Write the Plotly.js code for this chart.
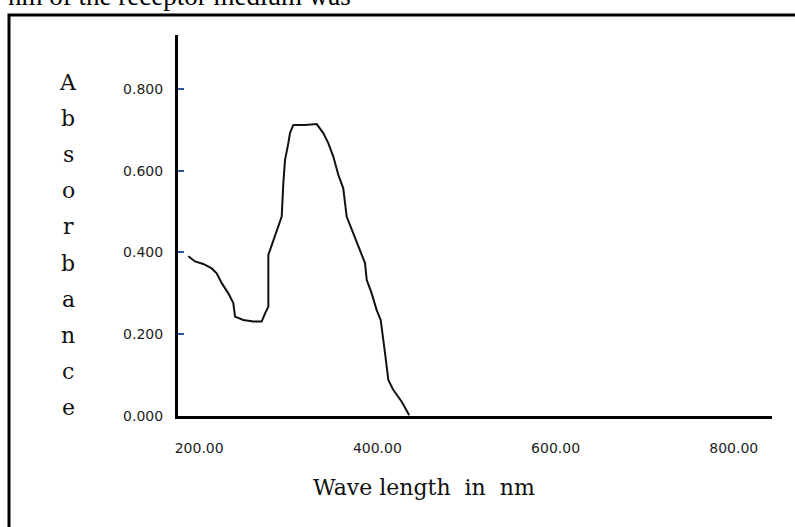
<!DOCTYPE html>
<html>
<head>
<meta charset="utf-8">
<script src="https://cdn.plot.ly/plotly-3.0.1.min.js"></script>
<style>
  html, body { margin: 0; padding: 0; background: #ffffff; }
  #chart { width: 795px; height: 527px; }
</style>
</head>
<body>
<div id="chart"></div>
<script>
// UV absorbance spectrum of the receptor medium
const wavelength = [187.8, 195.3, 204.6, 214.0, 219.6, 225.3, 232.7, 238.3, 240.2, 249.5,
  260.7, 270.1, 273.9, 277.6, 277.6, 283.2, 287.0, 292.6, 294.4, 296.3,
  300.0, 301.9, 305.6, 318.7, 331.9, 339.3, 345.0, 350.6, 356.1, 361.7,
  365.5, 373.0, 380.5, 386.1, 388.0, 393.6, 399.2, 403.7, 408.6, 412.3,
  417.8, 427.3, 435.7];
const absorbance = [0.391, 0.378, 0.372, 0.361, 0.349, 0.325, 0.300, 0.276, 0.243, 0.235,
  0.231, 0.231, 0.251, 0.267, 0.394, 0.431, 0.451, 0.488, 0.569, 0.626,
  0.667, 0.692, 0.712, 0.712, 0.714, 0.692, 0.667, 0.634, 0.590, 0.557,
  0.488, 0.447, 0.406, 0.374, 0.333, 0.300, 0.259, 0.235, 0.153, 0.088,
  0.064, 0.035, 0.002];

const xTicks = [200, 400, 600, 800];
const yTicks = [0, 0.2, 0.4, 0.6, 0.8];
const yTitle = 'Absorbance';
const xTitle = 'Wave\u00a0length\u00a0\u00a0in\u00a0\u00a0nm';
const headerText = 'nm of the receptor medium was';

// plot box in pixels, used to turn pixel placements into paper coordinates
const W = 795, H = 527;
const M = { l: 178, r: 23, t: 35, b: 111 };
const PW = W - M.l - M.r, PH = H - M.t - M.b;
const px = x => (x - M.l) / PW;
const py = y => (H - M.b - y) / PH;

const serif = 'DejaVu Serif, serif';
const tickFont = { family: 'DejaVu Sans, sans-serif', size: 14, color: '#1e1e1e' };

const annotations = [];
// vertical stacked y-axis title, one letter per line
yTitle.split('').forEach((ch, i) => {
  annotations.push({
    text: ch, xref: 'paper', yref: 'paper',
    x: px(68), y: py(82 + i * 36.2),
    xanchor: 'center', yanchor: 'middle', showarrow: false,
    font: { family: serif, size: 22, color: '#111' }
  });
});
annotations.push({
  text: xTitle, xref: 'paper', yref: 'paper',
  x: px(424), y: py(487), xanchor: 'center', yanchor: 'middle',
  showarrow: false, font: { family: serif, size: 22, color: '#111' }
});
// running text line above the framed figure, partly above the page edge
annotations.push({
  text: headerText, xref: 'paper', yref: 'paper',
  x: px(6), y: py(13), xanchor: 'left', yanchor: 'bottom',
  showarrow: false, font: { family: 'Liberation Serif, serif', size: 27, color: '#000' }
});

const trace = {
  x: wavelength, y: absorbance, type: 'scatter', mode: 'lines',
  line: { color: '#111', width: 2 }, hoverinfo: 'skip'
};

const layout = {
  width: W, height: H,
  margin: M,
  paper_bgcolor: '#ffffff', plot_bgcolor: '#ffffff',
  showlegend: false,
  xaxis: {
    range: [176.2, 842.9], tickvals: xTicks, tickformat: '.2f',
    showgrid: false, zeroline: false, showline: true, linecolor: '#000', linewidth: 3,
    ticks: '', ticklabelstandoff: 17,
    tickfont: tickFont
  },
  yaxis: {
    range: [0, 0.932], tickvals: yTicks, tickformat: '.3f',
    showgrid: false, zeroline: false, showline: true, linecolor: '#000', linewidth: 3,
    ticks: 'inside', ticklen: 6, tickwidth: 2, tickcolor: '#2e5597',
    ticklabelstandoff: 9,
    tickfont: tickFont
  },
  annotations: annotations,
  shapes: [{
    type: 'rect', xref: 'paper', yref: 'paper',
    x0: px(9), x1: px(820), y0: py(15), y1: py(560),
    line: { color: '#000', width: 3 }, fillcolor: 'rgba(0,0,0,0)', layer: 'below'
  }]
};

Plotly.newPlot('chart', [trace], layout, { displayModeBar: false, staticPlot: true });
</script>
</body>
</html>
